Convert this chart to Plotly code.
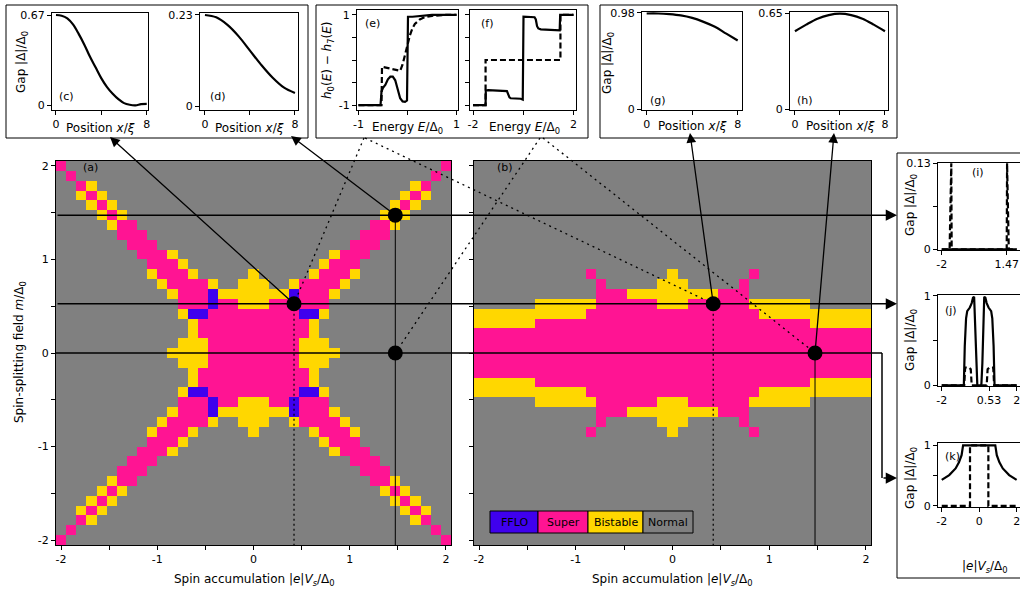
import numpy as np
import plotly.graph_objects as go

W, H = 1020, 591
FONT = "DejaVu Sans"

# ---------------------------------------------------------------- data
GRID_N = 39
V_GRID = np.linspace(-2.0, 2.0, GRID_N)   # |e|Vs/Δ0 sample points
M_GRID = np.linspace(-2.0, 2.0, GRID_N)   # m/Δ0 sample points

STATE_NAMES = ["FFLO", "Super", "Bistable", "Normal"]
STATE_COLORS = {"N": "#808080", "S": "#ff1493", "B": "#ffd700", "F": "#3f00ee"}
STATE_CODE = {"N": 0, "S": 1, "B": 2, "F": 3}

# phase map (a); first row is m=-2, last row m=+2; columns V=-2..2 (groups of 10)
PHASE_A = [
    "SNNNNNNNNN NNNNNNNNNN NNNNNNNNNN NNNNNNNNS",
    "NSNNNNNNNN NNNNNNNNNN NNNNNNNNNN NNNNNNNSN",
    "NNSBNNNNNN NNNNNNNNNN NNNNNNNNNN NNNNNBSNN",
    "NNBSBNNNNN NNNNNNNNNN NNNNNNNNNN NNNNBSBNN",
    "NNNBSBNNNN NNNNNNNNNN NNNNNNNNNN NNNBSBNNN",
    "NNNNBSBNNN NNNNNNNNNN NNNNNNNNNN NNBSBNNNN",
    "NNNNNBSSNN NNNNNNNNNN NNNNNNNNNN NSSBNNNNN",
    "NNNNNNSSSN NNNNNNNNNN NNNNNNNNNN SSSNNNNNN",
    "NNNNNNNSSS NNNNNNNNNN NNNNNNNNNS SSNNNNNNN",
    "NNNNNNNNSS SBNNNNNNNN NNNNNNNBSS SNNNNNNNN",
    "NNNNNNNNNS SSBNNNNNNN NNNNNNBSSS NNNNNNNNN",
    "NNNNNNNNNB SSSBNNNNNB NNNNNBSSSB NNNNNNNNN",
    "NNNNNNNNNN BSSSSBNNBB BNNBSSSSBN NNNNNNNNN",
    "NNNNNNNNNN NBSSSFBBBB BBBFSSSBNN NNNNNNNNN",
    "NNNNNNNNNN NNSSSFSSBB BSSFSSSNNN NNNNNNNNN",
    "NNNNNNNNNN NNBFFSSSSS SSSSFFBNNN NNNNNNNNN",
    "NNNNNNNNNN NNNBSSSSSS SSSSSBNNNN NNNNNNNNN",
    "NNNNNNNNNN NNNBSSSSSS SSSSSBNNNN NNNNNNNNN",
    "NNNNNNNNNN NNBBBSSSSS SSSSBBBNNN NNNNNNNNN",
    "NNNNNNNNNN NBBBBSSSSS SSSSBBBBNN NNNNNNNNN",
    "NNNNNNNNNN NNBBBSSSSS SSSSBBBNNN NNNNNNNNN",
    "NNNNNNNNNN NNNBSSSSSS SSSSSBNNNN NNNNNNNNN",
    "NNNNNNNNNN NNNBSSSSSS SSSSSBNNNN NNNNNNNNN",
    "NNNNNNNNNN NNBFFSSSSS SSSSFFBNNN NNNNNNNNN",
    "NNNNNNNNNN NNSSSFSSBB BSSFSSSNNN NNNNNNNNN",
    "NNNNNNNNNN NBSSSFBBBB BBBFSSSBNN NNNNNNNNN",
    "NNNNNNNNNN BSSSSBNNBB BNNBSSSSBN NNNNNNNNN",
    "NNNNNNNNNB SSSBNNNNNB NNNNNBSSSB NNNNNNNNN",
    "NNNNNNNNNS SSBNNNNNNN NNNNNNBSSS NNNNNNNNN",
    "NNNNNNNNSS SBNNNNNNNN NNNNNNNBSS SNNNNNNNN",
    "NNNNNNNSSS NNNNNNNNNN NNNNNNNNNS SSNNNNNNN",
    "NNNNNNSSSN NNNNNNNNNN NNNNNNNNNN SSSNNNNNN",
    "NNNNNBSSNN NNNNNNNNNN NNNNNNNNNN NSSBNNNNN",
    "NNNNBSBNNN NNNNNNNNNN NNNNNNNNNN NNBSBNNNN",
    "NNNBSBNNNN NNNNNNNNNN NNNNNNNNNN NNNBSBNNN",
    "NNBSBNNNNN NNNNNNNNNN NNNNNNNNNN NNNNBSBNN",
    "NNSBNNNNNN NNNNNNNNNN NNNNNNNNNN NNNNNBSNN",
    "NSNNNNNNNN NNNNNNNNNN NNNNNNNNNN NNNNNNNSN",
    "SNNNNNNNNN NNNNNNNNNN NNNNNNNNNN NNNNNNNNS",
]

# phase map (b)
PHASE_B = [
    "NNNNNNNNNN NNNNNNNNNN NNNNNNNNNN NNNNNNNNN",
    "NNNNNNNNNN NNNNNNNNNN NNNNNNNNNN NNNNNNNNN",
    "NNNNNNNNNN NNNNNNNNNN NNNNNNNNNN NNNNNNNNN",
    "NNNNNNNNNN NNNNNNNNNN NNNNNNNNNN NNNNNNNNN",
    "NNNNNNNNNN NNNNNNNNNN NNNNNNNNNN NNNNNNNNN",
    "NNNNNNNNNN NNNNNNNNNN NNNNNNNNNN NNNNNNNNN",
    "NNNNNNNNNN NNNNNNNNNN NNNNNNNNNN NNNNNNNNN",
    "NNNNNNNNNN NNNNNNNNNN NNNNNNNNNN NNNNNNNNN",
    "NNNNNNNNNN NNNNNNNNNN NNNNNNNNNN NNNNNNNNN",
    "NNNNNNNNNN NNNNNNNNNN NNNNNNNNNN NNNNNNNNN",
    "NNNNNNNNNN NNNNNNNNNN NNNNNNNNNN NNNNNNNNN",
    "NNNNNNNNNN NSNNNNNNNB NNNNNNNSNN NNNNNNNNN",
    "NNNNNNNNNN NNSNNNNNBB BNNNNNSNNN NNNNNNNNN",
    "NNNNNNNNNN NNSSSBBBBB BBBBSSSNNN NNNNNNNNN",
    "NNNNNNBBBB BBSSSSSSBB BSSSSSSBBB BBBNNNNNN",
    "BBBBBBBBBB BSSSSSSSSS SSSSSSSSBB BBBBBBBBB",
    "BBBBBBSSSS SSSSSSSSSS SSSSSSSSSS SSSBBBBBB",
    "SSSSSSSSSS SSSSSSSSSS SSSSSSSSSS SSSSSSSSS",
    "SSSSSSSSSS SSSSSSSSSS SSSSSSSSSS SSSSSSSSS",
    "SSSSSSSSSS SSSSSSSSSS SSSSSSSSSS SSSSSSSSS",
    "SSSSSSSSSS SSSSSSSSSS SSSSSSSSSS SSSSSSSSS",
    "SSSSSSSSSS SSSSSSSSSS SSSSSSSSSS SSSSSSSSS",
    "BBBBBBSSSS SSSSSSSSSS SSSSSSSSSS SSSBBBBBB",
    "BBBBBBBBBB BSSSSSSSSS SSSSSSSSBB BBBBBBBBB",
    "NNNNNNBBBB BBSSSSSSBB BSSSSSSBBB BBBNNNNNN",
    "NNNNNNNNNN NNSSSBBBBB BBBBSSSNNN NNNNNNNNN",
    "NNNNNNNNNN NNSNNNNNBB BNNNNNSNNN NNNNNNNNN",
    "NNNNNNNNNN NSNNNNNNNB NNNNNNNSNN NNNNNNNNN",
    "NNNNNNNNNN NNNNNNNNNN NNNNNNNNNN NNNNNNNNN",
    "NNNNNNNNNN NNNNNNNNNN NNNNNNNNNN NNNNNNNNN",
    "NNNNNNNNNN NNNNNNNNNN NNNNNNNNNN NNNNNNNNN",
    "NNNNNNNNNN NNNNNNNNNN NNNNNNNNNN NNNNNNNNN",
    "NNNNNNNNNN NNNNNNNNNN NNNNNNNNNN NNNNNNNNN",
    "NNNNNNNNNN NNNNNNNNNN NNNNNNNNNN NNNNNNNNN",
    "NNNNNNNNNN NNNNNNNNNN NNNNNNNNNN NNNNNNNNN",
    "NNNNNNNNNN NNNNNNNNNN NNNNNNNNNN NNNNNNNNN",
    "NNNNNNNNNN NNNNNNNNNN NNNNNNNNNN NNNNNNNNN",
    "NNNNNNNNNN NNNNNNNNNN NNNNNNNNNN NNNNNNNNN",
    "NNNNNNNNNN NNNNNNNNNN NNNNNNNNNN NNNNNNNNN",
]

# selected points (V, m)
DOTS_A = [(0.4211, 0.5263), (1.4737, 1.4737), (1.4737, 0.0)]
DOTS_B = [(0.4211, 0.5263), (1.4737, 0.0)]
CUT_M = [1.4737, 0.5263, 0.0]

# (c),(d),(g),(h): gap profiles vs position
C_X = [0, 0.5, 1, 1.5, 2, 2.5, 3, 3.5, 4, 4.5, 5, 5.5, 6, 6.5, 7, 7.5, 8]
C_GAP = [0.67, 0.665, 0.645, 0.60, 0.53, 0.45, 0.36, 0.28, 0.20, 0.135, 0.085, 0.045,
         0.016, 0.004, 0.0, 0.008, 0.01]
D_X = [0, 1, 2, 3, 4, 5, 6, 7, 8]
D_GAP = [0.23, 0.224, 0.205, 0.176, 0.14, 0.104, 0.072, 0.047, 0.033]
G_X = [0, 1, 2, 3, 4, 5, 6, 7, 8]
G_GAP = [0.975, 0.975, 0.968, 0.955, 0.93, 0.89, 0.84, 0.77, 0.70]
H_X = [0, 1, 2, 3, 4, 5, 6, 7, 8]
H_GAP = [0.53, 0.575, 0.615, 0.64, 0.65, 0.64, 0.615, 0.575, 0.53]

# (e),(f): h0(E) - h7(E)
E_E_SOLID = [-1.0, -0.55, -0.53, -0.50, -0.45, -0.40, -0.35, -0.30, -0.25, -0.20, -0.15,
             -0.10, -0.05, -0.01, 0.01, 0.10, 0.30, 0.50, 1.0]
E_H_SOLID = [-1.0, -1.0, -0.70, -0.62, -0.55, -0.43, -0.37, -0.37, -0.45, -0.65, -0.85,
             -0.92, -0.93, -0.90, 0.96, 0.96, 0.98, 1.0, 1.0]
E_E_DASH = [-1.0, -0.53, -0.52, -0.45, -0.35, -0.25, -0.15, -0.10, -0.05, 0.0, 0.05,
            0.10, 0.15, 0.25, 0.35, 0.50, 0.75, 1.0]
E_H_DASH = [-1.0, -1.0, -0.15, -0.17, -0.20, -0.22, -0.24, -0.10, 0.12, 0.35, 0.55,
            0.70, 0.80, 0.90, 0.95, 0.98, 1.0, 1.0]
F_E_SOLID = [-2.0, -1.50, -1.49, -1.40, -0.65, -0.60, -0.55, -0.50, -0.10, -0.02, 0.01,
             0.45, 0.50, 0.55, 0.60, 0.70, 1.45, 1.47, 1.52, 2.0]
F_H_SOLID = [-1.0, -1.0, -0.68, -0.67, -0.69, -0.78, -0.83, -0.85, -0.86, -0.88, 0.96,
             0.95, 0.90, 0.75, 0.70, 0.68, 0.66, 1.0, 1.0, 1.0]
F_E_DASH = [-2.0, -1.50, -1.50, 1.48, 1.48, 2.0]
F_H_DASH = [-1.0, -1.0, 0.0, 0.0, 1.0, 1.0]

# (i),(j),(k): gap vs spin accumulation along the cuts
I_V_SOLID = [-2.0, 2.0]
I_SOLID = [0.0, 0.0]
I_V_DASH = [-2.0, -1.58, -1.49, -1.47, 1.47, 1.49, 1.58, 2.0]
I_DASH = [0.0, 0.0, 0.13, 0.0, 0.0, 0.13, 0.0, 0.0]
J_V_SOLID = [-2.0, -0.82, -0.77, -0.70, -0.64, -0.50, -0.40, -0.33, -0.27, -0.22, -0.17,
             -0.12, -0.10, 0.10, 0.12, 0.17, 0.22, 0.27, 0.33, 0.40, 0.50, 0.64, 0.70,
             0.77, 0.82, 2.0]
J_SOLID = [0.0, 0.0, 0.44, 0.75, 0.83, 0.87, 0.92, 0.98, 0.99, 0.70, 0.25, 0.02, 0.0,
           0.0, 0.02, 0.25, 0.70, 0.99, 0.98, 0.92, 0.87, 0.83, 0.75, 0.44, 0.0, 0.0]
J_V_DASH = [-2.0, -0.80, -0.75, -0.55, -0.45, -0.40, -0.12, 0.12, 0.40, 0.45, 0.55, 0.75,
            0.80, 2.0]
J_DASH = [0.0, 0.0, 0.20, 0.20, 0.18, 0.0, 0.0, 0.0, 0.0, 0.18, 0.20, 0.20, 0.0, 0.0]
K_V_SOLID = [-2.0, -1.6, -1.26, -1.08, -0.94, -0.90, -0.86, 0.86, 0.90, 0.94, 1.08, 1.26,
             1.6, 2.0]
K_SOLID = [0.43, 0.51, 0.62, 0.72, 0.84, 0.92, 1.0, 1.0, 0.92, 0.84, 0.72, 0.62, 0.51, 0.43]
K_V_DASH = [-2.0, -0.49, -0.49, 0.49, 0.49, 2.0]
K_DASH = [0.0, 0.0, 1.0, 1.0, 0.0, 0.0]

# ---------------------------------------------------------------- layout geometry (pixels)
PANELS = {
    "a": dict(ax=1, px=(56, 451), py=(161, 545), xr=(-2.0526, 2.0526), yr=(-2.0526, 2.0526)),
    "b": dict(ax=2, px=(474, 871), py=(161, 545), xr=(-2.0526, 2.0526), yr=(-2.0526, 2.0526)),
    "c": dict(ax=3, px=(52, 148), py=(13, 110), xr=(-0.35, 8.11), yr=(-0.035, 0.685)),
    "d": dict(ax=4, px=(200, 298), py=(13, 110), xr=(-0.44, 8.27), yr=(-0.01, 0.235)),
    "e": dict(ax=5, px=(357, 458), py=(10, 110), xr=(-1.03, 1.03), yr=(-1.11, 1.11)),
    "f": dict(ax=6, px=(470, 576), py=(10, 110), xr=(-2.12, 2.1), yr=(-1.11, 1.11)),
    "g": dict(ax=7, px=(642, 742), py=(12, 110), xr=(-0.41, 8.38), yr=(-0.005, 0.99)),
    "h": dict(ax=8, px=(790, 888), py=(12, 110), xr=(-0.44, 8.27), yr=(-0.005, 0.661)),
    "i": dict(ax=9, px=(938, 1020), py=(163, 250), xr=(-2.2, 2.18), yr=(-0.001, 0.1305)),
    "j": dict(ax=10, px=(938, 1020), py=(295, 386), xr=(-2.2, 2.18), yr=(-0.007, 1.01)),
    "k": dict(ax=11, px=(938, 1020), py=(443, 507), xr=(-2.2, 2.18), yr=(-0.017, 1.04)),
}


def to_px(p, x, y):
    P = PANELS[p]
    X = P["px"][0] + (x - P["xr"][0]) / (P["xr"][1] - P["xr"][0]) * (P["px"][1] - P["px"][0])
    Y = P["py"][1] - (y - P["yr"][0]) / (P["yr"][1] - P["yr"][0]) * (P["py"][1] - P["py"][0])
    return X, Y


def fx(px):
    return px / W


def fy(py):
    return 1 - py / H


def grid_to_z(rows):
    z = []
    for r in rows:
        s = r.replace(" ", "")
        assert len(s) == GRID_N, (r, len(s))
        z.append([STATE_CODE[ch] for ch in s])
    assert len(z) == GRID_N
    return z


fig = go.Figure()

cs = [[0, STATE_COLORS["N"]], [0.25, STATE_COLORS["N"]],
      [0.25, STATE_COLORS["S"]], [0.5, STATE_COLORS["S"]],
      [0.5, STATE_COLORS["B"]], [0.75, STATE_COLORS["B"]],
      [0.75, STATE_COLORS["F"]], [1.0, STATE_COLORS["F"]]]

for key, rows in (("a", PHASE_A), ("b", PHASE_B)):
    n = PANELS[key]["ax"]
    fig.add_trace(go.Heatmap(z=grid_to_z(rows), x=V_GRID, y=M_GRID, colorscale=cs,
                             zmin=-0.5, zmax=3.5, showscale=False, hoverinfo="skip",
                             xaxis="x" if n == 1 else f"x{n}", yaxis="y" if n == 1 else f"y{n}"))


def line(key, x, y, dash=None, shape="linear"):
    n = PANELS[key]["ax"]
    fig.add_trace(go.Scatter(x=x, y=y, mode="lines", line_shape=shape,
                             line=dict(color="black", width=2.2,
                                       dash=dash if dash else "solid"),
                             xaxis=f"x{n}", yaxis=f"y{n}", hoverinfo="skip",
                             showlegend=False, cliponaxis=True))


DASH = "6px,3px"
line("c", C_X, C_GAP, shape="spline")
line("d", D_X, D_GAP, shape="spline")
line("g", G_X, G_GAP, shape="spline")
line("h", H_X, H_GAP, shape="spline")
line("e", E_E_SOLID, E_H_SOLID)
line("e", E_E_DASH, E_H_DASH, dash=DASH)
line("f", F_E_SOLID, F_H_SOLID)
line("f", F_E_DASH, F_H_DASH, dash=DASH)
line("i", I_V_SOLID, I_SOLID)
line("i", I_V_DASH, I_DASH, dash=DASH)
line("j", J_V_SOLID, J_SOLID)
line("j", J_V_DASH, J_DASH, dash=DASH)
line("k", K_V_SOLID, K_SOLID)
line("k", K_V_DASH, K_DASH, dash=DASH)

# dots
for key, dots, n in (("a", DOTS_A, 1), ("b", DOTS_B, 2)):
    fig.add_trace(go.Scatter(x=[d[0] for d in dots], y=[d[1] for d in dots], mode="markers",
                             marker=dict(color="black", size=15),
                             xaxis="x" if n == 1 else f"x{n}", yaxis="y" if n == 1 else f"y{n}",
                             hoverinfo="skip", showlegend=False, cliponaxis=False))

# ---------------------------------------------------------------- axes
TF = dict(family=FONT, size=11, color="black")


def axes(key, xtv, xtt, ytv, ytt, top_spine=True, right_spine=True, show_ylabels=True):
    P = PANELS[key]
    n = P["ax"]
    xs = "" if n == 1 else str(n)
    common = dict(showline=True, linecolor="black", linewidth=1, ticks="outside", ticklen=4,
                  tickwidth=1, tickcolor="black", showgrid=False, zeroline=False,
                  tickfont=TF, fixedrange=True, tickangle=0, automargin=False,
                  ticklabeloverflow="allow")
    fig.layout[f"xaxis{xs}"] = dict(common, domain=[fx(P["px"][0]), min(1.0, fx(P["px"][1]))],
                                    range=list(P["xr"]), anchor=f"y{xs}", mirror=top_spine,
                                    tickmode="array", tickvals=xtv, ticktext=xtt)
    fig.layout[f"yaxis{xs}"] = dict(common, domain=[fy(P["py"][1]), fy(P["py"][0])],
                                    range=list(P["yr"]), anchor=f"x{xs}", mirror=right_spine,
                                    tickmode="array", tickvals=ytv, ticktext=ytt,
                                    showticklabels=show_ylabels)


half = [-2, -1.5, -1, -0.5, 0, 0.5, 1, 1.5, 2]
half_txt = ["-2", "", "-1", "", "0", "", "1", "", "2"]
axes("a", half, half_txt, half, half_txt)
axes("b", half, half_txt, half, half_txt, show_ylabels=False)
axes("c", [0, 4, 8], ["0", "", "8"], [0, 0.67], ["0", "0.67"])
axes("d", [0, 4, 8], ["0", "", "8"], [0, 0.23], ["0", "0.23"])
axes("e", [-1, 0, 1], ["-1", "", "1"], [-1, -0.5, 0, 0.5, 1], ["-1", "", "", "", "1"])
axes("f", [-2, 0, 2], ["-2", "", "2"], [-1, -0.5, 0, 0.5, 1], ["", "", "", "", ""])
axes("g", [0, 4, 8], ["0", "", "8"], [0, 0.98], ["0", "0.98"])
axes("h", [0, 4, 8], ["0", "", "8"], [0, 0.65], ["0", "0.65"])
axes("i", [-2, 1.47], ["-2", "1.47"], [0, 0.065, 0.13], ["0", "", "0.13"], right_spine=False)
axes("j", [-2, 0.53, 2], ["-2", "0.53", "2"], [0, 0.5, 1], ["0", "", "1"], right_spine=False)
axes("k", [-2, 0, 2], ["-2", "0", "2"], [0, 0.5, 1], ["0", "", "1"], right_spine=False)

# ---------------------------------------------------------------- shapes / annotations
shapes = []
ann = []


def seg(x0, y0, x1, y1, width=1.3, dash="solid"):
    shapes.append(dict(type="line", xref="paper", yref="paper", x0=fx(x0), y0=fy(y0),
                       x1=fx(x1), y1=fy(y1), line=dict(color="black", width=width, dash=dash)))


def arrow(tx, ty, hx, hy, width=1.3):
    ann.append(dict(x=fx(hx), y=fy(hy), xref="paper", yref="paper", ax=tx - hx, ay=ty - hy,
                    axref="pixel", ayref="pixel", text="", showarrow=True, arrowhead=2,
                    arrowsize=1.5, arrowwidth=width, arrowcolor="black", standoff=0,
                    startstandoff=0))


def text(x, y, s, size=11, angle=0, xanchor="center"):
    ann.append(dict(x=fx(x), y=fy(y), xref="paper", yref="paper", text=s, showarrow=False,
                    font=dict(family=FONT, size=size, color="black"), textangle=angle,
                    xanchor=xanchor, yanchor="middle"))


# frames around the insets
for (x0, y0, x1, y1) in [(6, 5, 308, 138), (316, 5, 588, 138), (600, 5, 897, 138),
                         (897, 153, 1030, 578)]:
    shapes.append(dict(type="rect", xref="paper", yref="paper", x0=fx(x0), y0=fy(y0),
                       x1=fx(x1), y1=fy(y1), line=dict(color="black", width=1)))

left_a = PANELS["a"]["px"][0]
# horizontal cuts
_, yi = to_px("a", 0, CUT_M[0])
_, yj = to_px("a", 0, CUT_M[1])
_, yk = to_px("a", 0, CUT_M[2])
arrow(left_a, yi, 897, yi, width=1.5)
arrow(left_a, yj, 897, yj, width=1.5)
seg(left_a, yk, 882, yk, width=1.5)
seg(882, yk, 882, 478, width=1.5)
arrow(882, 478, 897, 478, width=1.5)

# vertical lines from dots to the bottom
bot = PANELS["a"]["py"][1]
xa1, ya1 = to_px("a", *DOTS_A[0])
xa2, ya2 = to_px("a", *DOTS_A[1])
xa3, ya3 = to_px("a", *DOTS_A[2])
xb1, yb1 = to_px("b", *DOTS_B[0])
xb2, yb2 = to_px("b", *DOTS_B[1])
seg(xa1, ya1, xa1, bot, width=1.2, dash="2px,3px")
seg(xa2, ya2, xa2, bot, width=1.0)
seg(xb1, yb1, xb1, bot, width=1.2, dash="2px,3px")
seg(xb2, yb2, xb2, bot, width=1.0)

# arrows to the gap profiles
arrow(xa1, ya1, 110, 137)
arrow(xa2, ya2, 291, 136)
arrow(xb1, yb1, 690, 133)
arrow(xb2, yb2, 834, 133)

# dotted links to the distribution panels
seg(364, 138, xa1, ya1, width=1.3, dash="2px,4px")
seg(365, 138, xb1, yb1, width=1.3, dash="2px,4px")
seg(540, 138, xa3, ya3, width=1.3, dash="2px,4px")
seg(543, 138, xb2, yb2, width=1.3, dash="2px,4px")

# legend in (b)
LEG = [("F", "FFLO", 490, 538), ("S", "Super", 538, 588), ("B", "Bistable", 588, 643),
       ("N", "Normal", 643, 693)]
for code, name, x0, x1 in LEG:
    shapes.append(dict(type="rect", xref="paper", yref="paper", x0=fx(x0), y0=fy(533),
                       x1=fx(x1), y1=fy(511), fillcolor=STATE_COLORS[code],
                       line=dict(color="black", width=1)))
    text((x0 + x1) / 2, 522, name, size=11)

# axis titles and panel letters
text(20, 352, "Spin-splitting field <i>m</i>/Δ<sub>0</sub>", size=12, angle=-90)
text(254, 580, "Spin accumulation |<i>e</i>|<i>V<sub>s</sub></i>/Δ<sub>0</sub>", size=12)
text(672, 580, "Spin accumulation |<i>e</i>|<i>V<sub>s</sub></i>/Δ<sub>0</sub>", size=12)
text(22, 62, "Gap |Δ|/Δ<sub>0</sub>", size=12, angle=-90)
text(100, 128, "Position <i>x</i>/<i>ξ</i>", size=12)
text(249, 128, "Position <i>x</i>/<i>ξ</i>", size=12)
text(328, 60, "<i>h</i><sub>0</sub>(<i>E</i>) − <i>h</i><sub>7</sub>(<i>E</i>)", size=12, angle=-90)
text(407, 128, "Energy <i>E</i>/Δ<sub>0</sub>", size=12)
text(524, 128, "Energy <i>E</i>/Δ<sub>0</sub>", size=12)
text(608, 63, "Gap |Δ|/Δ<sub>0</sub>", size=12, angle=-90)
text(692, 126, "Position <i>x</i>/<i>ξ</i>", size=12)
text(840, 126, "Position <i>x</i>/<i>ξ</i>", size=12)
text(911, 205, "Gap |Δ|/Δ<sub>0</sub>", size=12, angle=-90)
text(911, 340, "Gap |Δ|/Δ<sub>0</sub>", size=12, angle=-90)
text(911, 478, "Gap |Δ|/Δ<sub>0</sub>", size=12, angle=-90)
text(985, 567, "|<i>e</i>|<i>V<sub>s</sub></i>/Δ<sub>0</sub>", size=12)

for lab, x, y in [("(a)", 90, 168), ("(b)", 505, 168), ("(c)", 66, 96), ("(d)", 218, 96),
                  ("(e)", 372, 23), ("(f)", 487, 23), ("(g)", 658, 100), ("(h)", 805, 100),
                  ("(i)", 978, 172), ("(j)", 951, 310), ("(k)", 952, 457)]:
    text(x, y, lab, size=11)

fig.update_layout(width=W, height=H, margin=dict(l=0, r=0, t=0, b=0, autoexpand=False),
                  paper_bgcolor="white", plot_bgcolor="white", showlegend=False,
                  shapes=shapes, annotations=ann, font=dict(family=FONT, size=11, color="black"))

fig.write_html("out.html", config={"displayModeBar": False},
               post_script="document.body.style.margin='0px';document.body.style.overflow='hidden';")
